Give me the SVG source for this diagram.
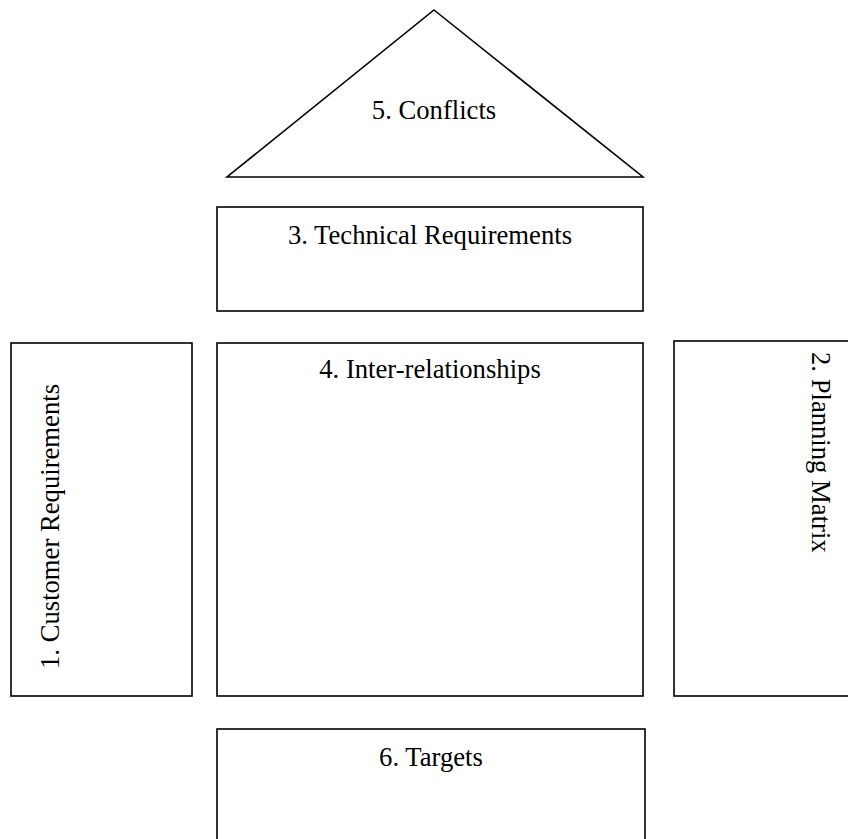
<svg xmlns="http://www.w3.org/2000/svg" width="848" height="839" viewBox="0 0 848 839">
<style>
.shape{fill:#fff;stroke:#000;stroke-width:1.6}
.lbl{font-family:"Liberation Serif","Times New Roman",serif;font-size:26.67px;fill:#000}
.c{text-anchor:middle}
</style>
<rect width="848" height="839" fill="#fff"/>
<g id="conflicts">
<polygon class="shape" points="434,10 643,177 227,177"/>
<text class="lbl c" x="434" y="119">5. Conflicts</text>
</g>
<g id="technical">
<rect class="shape" x="217" y="207" width="426" height="104"/>
<text class="lbl c" x="430" y="244">3. Technical Requirements</text>
</g>
<g id="customer">
<rect class="shape" x="11" y="343" width="181" height="353"/>
<text class="lbl" transform="translate(59,669) rotate(-90)">1. Customer Requirements</text>
</g>
<g id="inter">
<rect class="shape" x="217" y="343" width="426" height="353"/>
<text class="lbl c" x="430" y="378">4. Inter-relationships</text>
</g>
<g id="planning">
<rect class="shape" x="674" y="341" width="190" height="355"/>
<text class="lbl" transform="translate(812,352) rotate(90)">2. Planning Matrix</text>
</g>
<g id="targets">
<rect class="shape" x="217" y="729" width="428" height="120"/>
<text class="lbl c" x="431" y="766">6. Targets</text>
</g>
<g id="connectors"></g>
</svg>
